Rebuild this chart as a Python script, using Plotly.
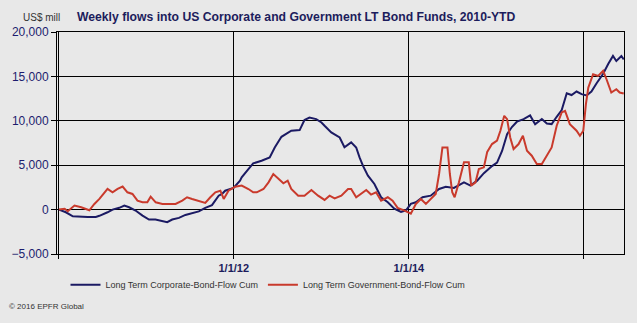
import plotly.graph_objects as go

corp_dates = ["2010-01-01","2010-01-30","2010-02-28","2010-03-29","2010-05-01","2010-06-04","2010-06-19",
    "2010-07-23","2010-08-13","2010-09-10","2010-10-01","2010-10-21","2010-11-17","2010-12-16",
    "2011-01-12","2011-02-08","2011-03-09","2011-03-29","2011-04-19","2011-05-17","2011-06-13",
    "2011-07-11","2011-08-08","2011-09-04","2011-10-02","2011-10-30","2011-11-13","2011-11-26",
    "2011-12-31","2012-01-27","2012-02-03","2012-03-02","2012-03-22","2012-04-26","2012-05-30",
    "2012-06-20","2012-07-18","2012-08-28","2012-10-02","2012-10-22","2012-11-12","2012-12-10",
    "2013-01-01","2013-01-14","2013-02-11","2013-03-18","2013-04-07","2013-05-05","2013-05-26",
    "2013-06-09","2013-06-23","2013-07-14","2013-08-10","2013-09-07","2013-10-05","2013-11-01",
    "2013-11-29","2013-12-20","2014-01-09","2014-01-30","2014-02-27","2014-04-02","2014-05-07",
    "2014-06-04","2014-07-08","2014-08-19","2014-09-15","2014-10-13","2014-11-10","2014-12-14",
    "2015-01-04","2015-01-25","2015-02-15","2015-03-07","2015-03-28","2015-04-25","2015-05-22",
    "2015-06-12","2015-07-10","2015-07-31","2015-08-20","2015-09-10","2015-10-01","2015-10-22",
    "2015-11-11","2015-12-02","2015-12-23","2016-01-13","2016-02-02","2016-02-23","2016-03-22",
    "2016-04-12","2016-05-02","2016-05-16","2016-06-06","2016-06-16"]
corp_values = [0,-300,-750,-820,-840,-820,-700,
    -300,0,200,450,260,-100,-670,
    -1120,-1120,-1310,-1420,-1120,-930,-600,
    -410,-200,200,500,1570,1760,2130,
    2450,3260,3630,4570,5200,5500,5880,
    7000,8200,8880,8950,10080,10370,10190,
    9810,9440,8690,8120,7020,7570,7000,
    5880,4950,3820,2890,1390,820,110,
    -270,-80,640,820,1390,1570,2320,
    2580,2440,3070,2700,3260,4100,4900,
    5300,6600,8500,9300,9900,10190,10600,
    9600,10200,9700,9630,10450,11200,13100,
    12900,13300,13000,12850,13300,14200,15300,
    16400,17300,16740,17300,16900]

gov_dates = ["2010-01-01","2010-01-25","2010-02-07","2010-03-07","2010-04-04","2010-04-24","2010-05-08",
    "2010-05-29","2010-06-19","2010-07-23","2010-08-13","2010-09-03","2010-09-24","2010-10-14",
    "2010-11-04","2010-11-25","2010-12-16","2011-01-05","2011-01-19","2011-02-09","2011-03-09",
    "2011-04-05","2011-05-03","2011-05-31","2011-06-20","2011-07-11","2011-08-08","2011-09-04",
    "2011-09-25","2011-10-16","2011-11-06","2011-11-20","2011-12-10","2012-01-07","2012-02-03",
    "2012-03-02","2012-03-22","2012-04-06","2012-05-04","2012-05-25","2012-06-14","2012-07-05",
    "2012-07-26","2012-08-13","2012-08-28","2012-09-26","2012-10-22","2012-11-20","2012-12-18",
    "2013-01-14","2013-02-04","2013-02-25","2013-03-25","2013-04-22","2013-05-05","2013-05-26",
    "2013-06-16","2013-07-07","2013-07-27","2013-08-17","2013-09-07","2013-10-05","2013-10-25",
    "2013-11-15","2013-12-12","2014-01-09","2014-01-30","2014-02-20","2014-03-13","2014-04-02",
    "2014-04-23","2014-05-07","2014-05-21","2014-06-11","2014-06-21","2014-07-01","2014-07-11",
    "2014-07-29","2014-08-19","2014-09-08","2014-09-18","2014-10-06","2014-10-20","2014-11-10",
    "2014-11-24","2014-12-14","2015-01-04","2015-01-18","2015-02-03","2015-02-15","2015-02-28",
    "2015-03-14","2015-04-04","2015-04-22","2015-05-09","2015-05-29","2015-06-19","2015-07-10",
    "2015-07-31","2015-08-20","2015-09-10","2015-10-01","2015-10-15","2015-11-04","2015-12-02",
    "2015-12-16","2015-12-30","2016-01-10","2016-01-20","2016-02-09","2016-03-01","2016-03-22",
    "2016-04-05","2016-04-25","2016-05-16","2016-05-30","2016-06-16"]
gov_values = [0,100,-190,450,260,80,-80,
    640,1200,2330,1950,2330,2600,1950,
    1760,1010,820,820,1460,820,640,
    640,640,1010,1390,1200,1010,750,
    1390,1950,2130,1200,2130,2580,2700,
    2320,1950,1950,2320,3070,4010,3450,
    2960,3260,2320,1570,1570,2210,1570,
    1090,1570,1270,1570,2320,2320,1390,
    1760,2210,1690,1950,1010,1390,1010,
    200,-80,-450,640,1200,640,1200,
    1760,4010,7000,7000,4010,1950,1390,
    3070,5320,5320,2700,3070,4570,4760,
    6500,7380,7760,8880,10560,10190,8120,
    6820,7380,8310,6630,6070,5130,5130,
    6070,7000,9440,10940,11120,9630,8880,
    8310,8880,11880,13740,15250,15060,15620,
    14680,13180,13560,13180,13070]

tick_vals = ["2010-01-01", "2012-01-01", "2014-01-01", "2016-01-01"]
tick_text = ["", "1/1/12", "1/1/14", ""]

NAVY = "#1b1a63"
RED = "#c93a2c"
BG = "#e8e8e8"

fig = go.Figure()
fig.add_trace(go.Scatter(x=corp_dates, y=corp_values, mode="lines",
                         name="Long Term Corporate-Bond-Flow Cum",
                         line=dict(color=NAVY, width=2)))
fig.add_trace(go.Scatter(x=gov_dates, y=gov_values, mode="lines",
                         name="Long Term Government-Bond-Flow Cum",
                         line=dict(color=RED, width=2)))

fig.update_layout(
    width=637, height=323,
    margin=dict(l=54, r=13, t=32, b=69),
    paper_bgcolor=BG, plot_bgcolor=BG,
    font=dict(family="Arial, Liberation Sans, sans-serif", color="#333333"),
    showlegend=True,
    legend=dict(orientation="h", x=0.015, y=-0.0735, xanchor="left", yanchor="top",
                font=dict(size=9, color="#333333"), bgcolor="rgba(0,0,0,0)",
                itemwidth=30, tracegroupgap=0),
    title=dict(text="<b>Weekly flows into US Corporate and Government LT Bond Funds, 2010-YTD</b>",
               x=77/637, xanchor="left", y=1-17/323, yanchor="middle",
               font=dict(size=12.2, color="#1c1c5c")),
)
fig.update_xaxes(type="date", range=["2009-12-24", "2016-06-17"],
                 tickvals=tick_vals, ticktext=tick_text,
                 showgrid=True, gridcolor="black", gridwidth=1,
                 showline=True, linecolor="black", linewidth=1, mirror=True,
                 ticks="outside", ticklen=4, tickcolor="black",
                 tickfont=dict(size=11, color="#1c1c5c", weight="bold"),
                 zeroline=False)
fig.update_yaxes(range=[-5000, 20000], dtick=5000, tickformat=",",
                 showgrid=True, gridcolor="black", gridwidth=1,
                 showline=True, linecolor="black", linewidth=1, mirror=True,
                 ticks="outside", ticklen=5, tickcolor="black",
                 tickfont=dict(size=12, color="#1c1c6e"),
                 zeroline=True, zerolinecolor="black", zerolinewidth=1)

fig.add_annotation(text="US$ mill", xref="paper", yref="paper",
                   x=-36/570, y=1+15/222, xanchor="left", yanchor="middle",
                   showarrow=False, font=dict(size=10, color="#333333"))
fig.add_annotation(text="© 2016 EPFR Global", xref="paper", yref="paper",
                   x=-50/570, y=-(306-254)/222, xanchor="left", yanchor="middle",
                   showarrow=False, font=dict(size=8, color="#333333"))

fig.write_html("out.html")
